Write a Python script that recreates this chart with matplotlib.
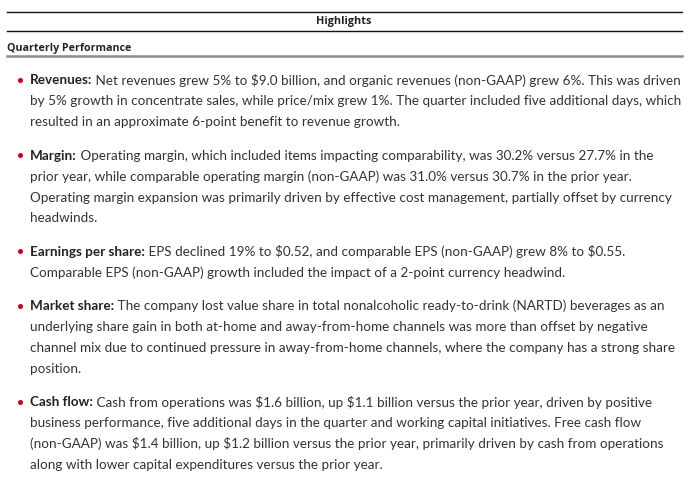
import matplotlib
matplotlib.use("Agg")
import matplotlib.pyplot as plt

# ---------- Content ----------
TITLE = "Highlights"
SECTION = "Quarterly Performance"

labels = ["Revenues:", "Margin:", "Earnings per share:", "Market share:", "Cash flow:"]

paragraphs = [
    [" Net revenues grew 5% to $9.0 billion, and organic revenues (non-GAAP) grew 6%. This was driven",
     "by 5% growth in concentrate sales, while price/mix grew 1%. The quarter included five additional days, which",
     "resulted in an approximate 6-point benefit to revenue growth."],
    [" Operating margin, which included items impacting comparability, was 30.2% versus 27.7% in the",
     "prior year, while comparable operating margin (non-GAAP) was 31.0% versus 30.7% in the prior year.",
     "Operating margin expansion was primarily driven by effective cost management, partially offset by currency",
     "headwinds."],
    [" EPS declined 19% to $0.52, and comparable EPS (non-GAAP) grew 8% to $0.55.",
     "Comparable EPS (non-GAAP) growth included the impact of a 2-point currency headwind."],
    [" The company lost value share in total nonalcoholic ready-to-drink (NARTD) beverages as an",
     "underlying share gain in both at-home and away-from-home channels was more than offset by negative",
     "channel mix due to continued pressure in away-from-home channels, where the company has a strong share",
     "position."],
    [" Cash from operations was $1.6 billion, up $1.1 billion versus the prior year, driven by positive",
     "business performance, five additional days in the quarter and working capital initiatives. Free cash flow",
     "(non-GAAP) was $1.4 billion, up $1.2 billion versus the prior year, primarily driven by cash from operations",
     "along with lower capital expenditures versus the prior year."],
]

# ---------- Style ----------
FONT = ["Lato", "DejaVu Sans"]
HEAD_FONT = ["Open Sans", "DejaVu Sans"]
TEXT_COLOR = "#333333"
RED = "#d0021b"
BODY_SIZE = 9.7
LINE_H = 20.9
PARA_GAP = 12.5

fig = plt.figure(figsize=(7, 4.84), dpi=100)
ax = fig.add_axes([0, 0, 1, 1])
ax.set_xlim(0, 700)
ax.set_ylim(484, 0)
ax.axis("off")

# header rules
ax.plot([7, 682], [11.5, 11.5], color="#111111", lw=1.0)
ax.plot([7, 682], [30.5, 30.5], color="#111111", lw=1.0)
ax.plot([7, 682], [56.3, 56.3], color="#8a8a8a", lw=1.8)

ax.text(344, 21.5, TITLE, ha="center", va="center", fontsize=7.8,
        fontweight="bold", color="#222222", family=HEAD_FONT)
ax.text(7, 48, SECTION, ha="left", va="center", fontsize=7.7,
        fontweight="bold", color="#222222", family=HEAD_FONT)

fig.canvas.draw()
renderer = fig.canvas.get_renderer()

x_text = 30
y = 80.5
for label, lines in zip(labels, paragraphs):
    ax.plot(19.5, y - 0.5, "o", ms=2.6, color=RED, mec=RED)
    b = ax.text(x_text, y, label, ha="left", va="center", fontsize=BODY_SIZE,
                fontweight="bold", color="#222222", family=FONT)
    w = b.get_window_extent(renderer=renderer).width
    for i, line in enumerate(lines):
        x0 = x_text + (w if i == 0 else 0)
        ax.text(x0, y, line, ha="left", va="center", fontsize=BODY_SIZE,
                color=TEXT_COLOR, family=FONT, parse_math=False)
        y += LINE_H
    y += PARA_GAP

fig.savefig("out.png", dpi=100, facecolor="white")
